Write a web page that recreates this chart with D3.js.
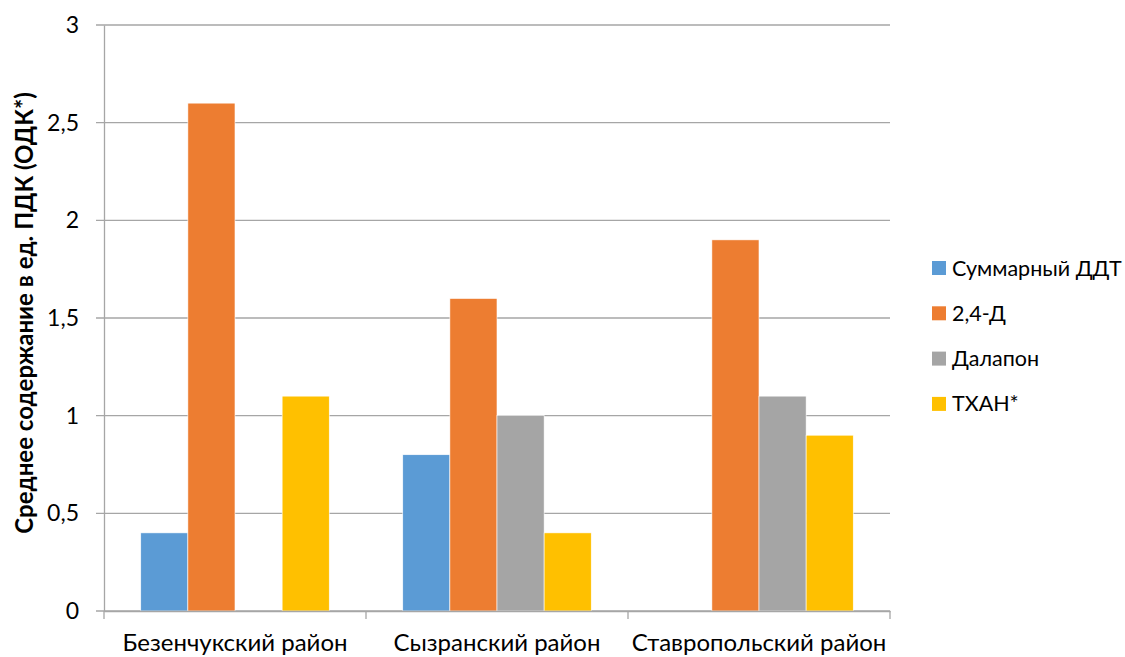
<!DOCTYPE html>
<html>
<head>
<meta charset="utf-8">
<script src="https://cdn.jsdelivr.net/npm/d3@7"></script>
<style>
  html, body { margin: 0; padding: 0; background: #fff; }
  svg { display: block; font-family: Lato, "Open Sans", sans-serif; }
</style>
</head>
<body>
<svg id="chart" width="1125" height="657"></svg>
<script>
// Districts along the x axis
const categories = ["Безенчукский район", "Сызранский район", "Ставропольский район"];
// Substances (series) and their colours
const seriesNames = ["Суммарный ДДТ", "2,4-Д", "Далапон", "ТХАН*"];
const seriesColors = ["#5B9BD5", "#ED7D31", "#A5A5A5", "#FFC000"];
// Mean content in MAC units, one array per substance (null = not detected)
const ddtValues     = [0.4, 0.8, null];
const d24Values     = [2.6, 1.6, 1.9];
const dalaponValues = [null, 1.0, 1.1];
const tchanValues   = [1.1, 0.4, 0.9];
const yTicks = [0, 0.5, 1, 1.5, 2, 2.5, 3];
const yTitle = "Среднее содержание в ед. ПДК (ОДК*)";

const seriesValues = [ddtValues, d24Values, dalaponValues, tchanValues];

const svg = d3.select("#chart");
const plotLeft = 104, plotRight = 890, plotTop = 25, plotBottom = 611;

const x0 = d3.scaleBand().domain(categories).range([plotLeft, plotRight]).paddingInner(0).paddingOuter(0);
const x1 = d3.scaleBand().domain(seriesNames).range([0, x0.bandwidth()]).paddingOuter(0.78).paddingInner(0);
const y = d3.scaleLinear().domain([0, 3]).range([plotBottom, plotTop]);

const fmt = v => String(v).replace(".", ",");

// Horizontal gridlines
svg.append("g")
  .selectAll("line")
  .data(yTicks)
  .join("line")
  .attr("x1", plotLeft - 8).attr("x2", plotRight)
  .attr("y1", d => y(d)).attr("y2", d => y(d))
  .attr("stroke", "#a6a6a6").attr("stroke-width", 1.3);

// Y axis labels
const yAxis = d3.axisLeft(y).tickValues(yTicks).tickFormat(fmt).tickSize(0).tickPadding(25);
const ya = svg.append("g").attr("transform", `translate(${plotLeft},0)`).call(yAxis);
ya.select(".domain").attr("stroke", "#a6a6a6").attr("stroke-width", 1.3);
ya.selectAll("text").attr("font-size", 23).attr("fill", "#000").attr("font-family", "Lato, sans-serif");

// Bars
const groups = svg.append("g")
  .selectAll("g")
  .data(categories)
  .join("g")
  .attr("transform", d => `translate(${x0(d)},0)`);

groups.selectAll("rect")
  .data((c, ci) => seriesNames.map((s, si) => ({ s, si, v: seriesValues[si][ci] })).filter(d => d.v != null))
  .join("rect")
  .attr("x", d => x1(d.s))
  .attr("width", x1.bandwidth())
  .attr("y", d => y(d.v))
  .attr("height", d => y(0) - y(d.v))
  .attr("fill", d => seriesColors[d.si])
  .attr("stroke", "#fff").attr("stroke-width", 0.6);

// X axis with category tick marks between groups
const xa = svg.append("g").attr("transform", `translate(0,${plotBottom})`)
  .call(d3.axisBottom(x0).tickSize(0).tickPadding(23));
xa.select(".domain").attr("stroke", "#a6a6a6").attr("stroke-width", 1.3);
xa.selectAll("text").attr("font-size", 24).attr("fill", "#000").attr("font-family", "Lato, sans-serif");
const boundaries = categories.map(c => x0(c)).concat([x0(categories[categories.length - 1]) + x0.bandwidth()]);
xa.append("g").selectAll("line")
  .data(boundaries)
  .join("line")
  .attr("x1", d => d).attr("x2", d => d)
  .attr("y1", 0).attr("y2", 8)
  .attr("stroke", "#a6a6a6").attr("stroke-width", 1.3);

// Y axis title
svg.append("text")
  .attr("transform", "translate(33,313) rotate(-90)")
  .attr("text-anchor", "middle")
  .attr("font-size", 24)
  .attr("font-weight", "bold")
  .attr("fill", "#000")
  .text(yTitle);

// Legend
const legend = svg.append("g").attr("transform", "translate(932,268)");
const li = legend.selectAll("g")
  .data(seriesNames)
  .join("g")
  .attr("transform", (d, i) => `translate(0,${i * 45.3})`);
li.append("rect")
  .attr("x", 0).attr("y", -7).attr("width", 14).attr("height", 14)
  .attr("fill", (d, i) => seriesColors[i]);
li.append("text")
  .attr("x", 20).attr("y", 0).attr("dy", "0.35em")
  .attr("font-size", 21.5).attr("fill", "#000")
  .text(d => d);
</script>
</body>
</html>
